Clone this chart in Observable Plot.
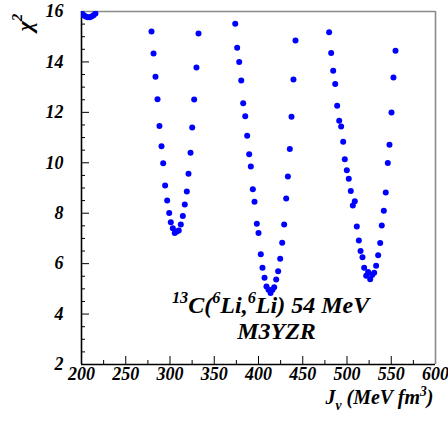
<!DOCTYPE html>
<html>
<head>
<meta charset="utf-8">
<script src="https://cdn.jsdelivr.net/npm/d3@7"></script>
<script src="https://cdn.jsdelivr.net/npm/@observablehq/plot@0.6"></script>
<style>
  html, body { margin: 0; padding: 0; background: #fff; }
  #chart svg { display: block; }
  #chart svg text { font-family: "Liberation Serif", "Times New Roman", serif; font-style: italic; font-weight: bold; }
</style>
</head>
<body>
<div id="chart"></div>
<script>
// ---- data ----
const edgeJv   = [200.5, 202.6, 204.8, 207.0, 209.2, 211.4, 213.6, 215.8];
const edgeChi2 = [15.92, 15.85, 15.80, 15.77, 15.77, 15.80, 15.85, 15.92];

const well1Jv   = [279.1, 281.4, 283.6, 285.9, 288.1, 290.4, 292.3, 294.5, 296.8, 299.1, 300.9, 303.2, 305.4,
                   307.7, 309.9, 312.2, 314.5, 316.7, 319.0, 320.9, 323.2, 325.1, 327.3, 329.9, 332.2];
const well1Chi2 = [15.21, 14.33, 13.41, 12.52, 11.46, 10.66, 9.98, 9.10, 8.50, 8.01, 7.64, 7.40, 7.22,
                   7.27, 7.31, 7.55, 7.89, 8.35, 8.86, 9.57, 10.40, 11.40, 12.51, 13.78, 15.13];

const well2Jv   = [373.7, 375.9, 378.2, 380.5, 382.7, 385.0, 387.2, 389.5, 391.3, 393.6, 395.5, 398.1, 400.0,
                   402.6, 404.5, 406.8, 409.0, 411.3, 413.6, 415.8, 417.7, 420.0, 422.2, 424.5, 426.8, 429.0,
                   431.3, 433.2, 435.4, 437.3, 439.5, 441.8];
const well2Chi2 = [15.51, 14.56, 14.00, 13.26, 12.36, 11.85, 11.07, 10.34, 9.85, 8.95, 8.45, 7.58, 7.22,
                   6.37, 5.84, 5.44, 5.09, 4.96, 4.84, 4.96, 5.06, 5.37, 5.70, 6.19, 6.83, 7.55,
                   8.58, 9.46, 10.55, 11.83, 13.30, 14.85];

const well3Jv   = [479.8, 482.1, 484.4, 486.7, 488.9, 491.2, 493.4, 495.7, 497.5, 499.8, 502.0, 504.3, 506.6,
                   508.8, 511.1, 513.4, 515.3, 517.5, 519.4, 521.7, 523.9, 526.2, 528.4, 530.7, 532.9,
                   535.2, 537.5, 539.3, 541.6, 543.8, 546.1, 548.0, 550.3, 552.5, 554.8];
const well3Chi2 = [15.18, 14.35, 13.65, 13.12, 12.26, 11.67, 11.44, 10.83, 10.14, 9.70, 9.37, 8.88, 8.31,
                   8.47, 7.47, 6.92, 6.50, 6.25, 5.84, 5.52, 5.67, 5.38, 5.55, 5.64, 5.92,
                   6.33, 6.82, 7.51, 8.10, 8.82, 9.99, 10.72, 11.99, 13.38, 14.44];

const xTickLabels = [200, 250, 300, 350, 400, 450, 500, 550, 600];
const xMinorTicks = [225, 275, 325, 375, 425, 475, 525, 575];
const yTickLabels = [2, 4, 6, 8, 10, 12, 14, 16];
const yMinorTicks = [2.5, 3, 3.5, 4.5, 5, 5.5, 6.5, 7, 7.5, 8.5, 9, 9.5, 10.5, 11, 11.5, 12.5, 13, 13.5, 14.5, 15, 15.5];

const xAxisTitle = "J_{v} (MeV fm^{3})";
const yAxisTitle = "χ^{2}";
const annotationLines = ["^{13}C(^{6}Li,^{6}Li) 54 MeV", "M3YZR"];
const annotationJv = [413.6, 420.3];
const annotationChi2 = [4.36, 3.33];

// ---- build table ----
const points = [];
[[edgeJv, edgeChi2], [well1Jv, well1Chi2], [well2Jv, well2Chi2], [well3Jv, well3Chi2]].forEach(([xs, ys]) => {
  xs.forEach((x, i) => points.push({jv: x, chi2: ys[i]}));
});
const annotations = annotationLines.map((t, i) => ({text: t, jv: annotationJv[i], chi2: annotationChi2[i]}));

// ---- layout ----
const W = 448, H = 421;
const mL = 81, mR = 13, mT = 11, mB = 57;
const innerW = W - mL - mR, innerH = H - mT - mB;
const serif = {fontFamily: "Liberation Serif, Times New Roman, serif", fontStyle: "italic", fontWeight: "bold"};

const chart = Plot.plot({
  width: W, height: H,
  marginLeft: mL, marginRight: mR, marginTop: mT, marginBottom: mB,
  x: {domain: [200, 600]},
  y: {domain: [2, 16]},
  style: {background: "#fff", fontFamily: serif.fontFamily, fontStyle: "italic", fontWeight: "bold", overflow: "visible"},
  marks: [
    // inward ticks
    Plot.ruleX(xTickLabels, {stroke: "black", strokeWidth: 1, insetTop: innerH - 8}),
    Plot.ruleX(xMinorTicks, {stroke: "black", strokeWidth: 1, insetTop: innerH - 4}),
    Plot.ruleY(yTickLabels, {stroke: "black", strokeWidth: 1, insetRight: innerW - 8}),
    Plot.ruleY(yMinorTicks, {stroke: "black", strokeWidth: 1, insetRight: innerW - 4}),
    // frame
    Plot.ruleY([16], {stroke: "#8a8a8a", strokeWidth: 1.6}),
    Plot.ruleX([600], {stroke: "#8a8a8a", strokeWidth: 1.6}),
    Plot.ruleX([200], {stroke: "black", strokeWidth: 1.6}),
    Plot.ruleY([2], {stroke: "black", strokeWidth: 1.6}),
    // data
    Plot.dot(points, {x: "jv", y: "chi2", r: 3, fill: "#0000ff", stroke: "none", clip: true}),
    // axes labels
    Plot.axisX(xTickLabels, {tickSize: 0, tickPadding: 3, fontSize: 18, ...serif, label: null, fill: "black"}),
    Plot.axisY(yTickLabels, {tickSize: 0, tickPadding: 18, fontSize: 18, ...serif, label: null, fill: "black"}),
    Plot.text([xAxisTitle], {frameAnchor: "bottom-right", textAnchor: "end", lineAnchor: "middle", dx: -2, dy: 33,
      fontSize: 20, ...serif, fill: "black"}),
    Plot.text([yAxisTitle], {frameAnchor: "top-left", textAnchor: "middle", lineAnchor: "middle", rotate: -90, dx: -57, dy: 11,
      fontSize: 22, ...serif, fill: "black"}),
    Plot.text(annotations, {x: "jv", y: "chi2", text: "text", textAnchor: "middle", lineAnchor: "middle",
      fontSize: 24, ...serif, fill: "black"})
  ]
});

// ---- rich text: ^{..} superscript, _{..} subscript ----
function richify(textEl) {
  const src = textEl.textContent;
  let fs = 18;
  for (let el = textEl; el && el.getAttribute; el = el.parentNode) {
    const v = el.getAttribute("font-size");
    if (v) { fs = parseFloat(v); break; }
  }
  const parts = [];
  const re = /(\^|_)\{([^}]*)\}/g;
  let last = 0, m;
  while ((m = re.exec(src))) {
    if (m.index > last) parts.push({t: src.slice(last, m.index), k: "n"});
    parts.push({t: m[2], k: m[1] === "^" ? "sup" : "sub"});
    last = re.lastIndex;
  }
  if (last < src.length) parts.push({t: src.slice(last), k: "n"});
  while (textEl.firstChild) textEl.removeChild(textEl.firstChild);
  const ns = "http://www.w3.org/2000/svg";
  let offset = 0;
  for (const p of parts) {
    const ts = document.createElementNS(ns, "tspan");
    let target = 0;
    if (p.k === "sup") { target = -0.42 * fs; ts.setAttribute("font-size", (0.68 * fs) + "px"); }
    if (p.k === "sub") { target = 0.28 * fs; ts.setAttribute("font-size", (0.68 * fs) + "px"); }
    const d = target - offset;
    if (d !== 0) ts.setAttribute("dy", d);
    offset = target;
    ts.textContent = p.t;
    textEl.appendChild(ts);
  }
}
document.getElementById("chart").appendChild(chart);
chart.querySelectorAll("text").forEach(t => {
  if (/[\^_]\{/.test(t.textContent)) richify(t);
});
</script>
</body>
</html>
